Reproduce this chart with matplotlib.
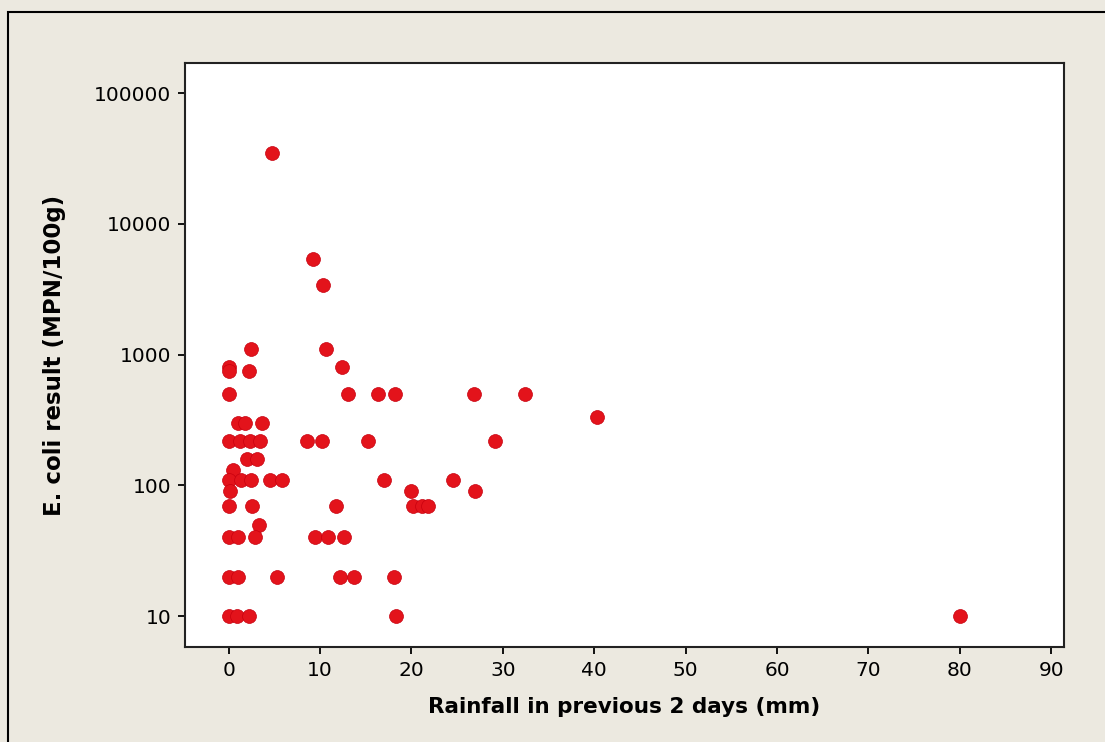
import matplotlib.pyplot as plt
from matplotlib.patches import Rectangle
from matplotlib.ticker import FixedLocator, NullLocator

RAINFALL_MM = [
    2.4, 10.7, 0.0, 0.0, 2.2, 12.4, 0.0, 13.1, 16.4, 18.2, 26.8, 32.4, 40.3,
    1.0, 1.8, 3.6, 0.0, 1.2, 2.3, 3.4, 8.6, 10.2, 15.3, 29.2, 2.0, 3.1, 0.5,
    0.0, 1.4, 2.5, 4.5, 5.8, 17.0, 24.6, 0.1, 20.0, 27.0, 0.0, 2.6, 11.7,
    20.2, 21.2, 21.8, 3.3, 0.0, 1.0, 2.9, 9.5, 10.9, 12.6, 0.0, 1.0, 5.3,
    12.2, 13.7, 18.1, 0.0, 0.9, 2.2, 18.3, 80.0, 4.7, 9.2, 10.3,
]
ECOLI_MPN = [
    1100, 1100, 800, 750, 750, 800, 500, 500, 500, 500, 500, 500, 330,
    300, 300, 300, 220, 220, 220, 220, 220, 220, 220, 220, 160, 160, 130,
    110, 110, 110, 110, 110, 110, 110, 90, 90, 90, 70, 70, 70,
    70, 70, 70, 50, 40, 40, 40, 40, 40, 40, 20, 20, 20,
    20, 20, 20, 10, 10, 10, 10, 10, 35000, 5400, 3400,
]
X_TICKS = [0, 10, 20, 30, 40, 50, 60, 70, 80, 90]
Y_TICKS = [10, 100, 1000, 10000, 100000]
Y_TICK_LABELS = ["10", "100", "1000", "10000", "100000"]

BG = "#ece9e0"
DOT = "#e3131b"


def main() -> None:
    fig = plt.figure(figsize=(11.05, 7.42), dpi=100, facecolor=BG)
    # outer panel frame, only its left and top edges fall inside the image
    fig.patches.append(Rectangle((8 / 1105, -0.2), 1.5, 1.2 - 12 / 742,
                                 transform=fig.transFigure, fill=False,
                                 edgecolor="black", linewidth=1.5))

    ax = fig.add_axes([185 / 1105, 95 / 742, 879 / 1105, 584 / 742])
    ax.set_facecolor("white")
    ax.scatter(RAINFALL_MM, ECOLI_MPN, s=100, color=DOT,
               edgecolors="#c8000e", linewidths=0.5, zorder=3)

    ax.set_yscale("log")
    ax.set_xlim(-4.77, 91.4)
    ax.set_ylim(10 ** 0.763, 10 ** 5.23)
    ax.xaxis.set_major_locator(FixedLocator(X_TICKS))
    ax.yaxis.set_major_locator(FixedLocator(Y_TICKS))
    ax.yaxis.set_minor_locator(NullLocator())
    ax.set_yticklabels(Y_TICK_LABELS)

    ax.tick_params(axis="both", direction="out", length=5, width=1.3,
                   labelsize=14.5, pad=5, colors="black")
    for spine in ax.spines.values():
        spine.set_linewidth(1.5)
        spine.set_color("#222222")

    ax.set_xlabel("Rainfall in previous 2 days (mm)", fontsize=15.5,
                  fontweight="bold", labelpad=12)
    ax.set_ylabel("E. coli result (MPN/100g)", fontsize=16.5,
                  fontweight="bold", labelpad=20)

    fig.savefig("out.png", dpi=100, facecolor=BG)


if __name__ == "__main__":
    main()
